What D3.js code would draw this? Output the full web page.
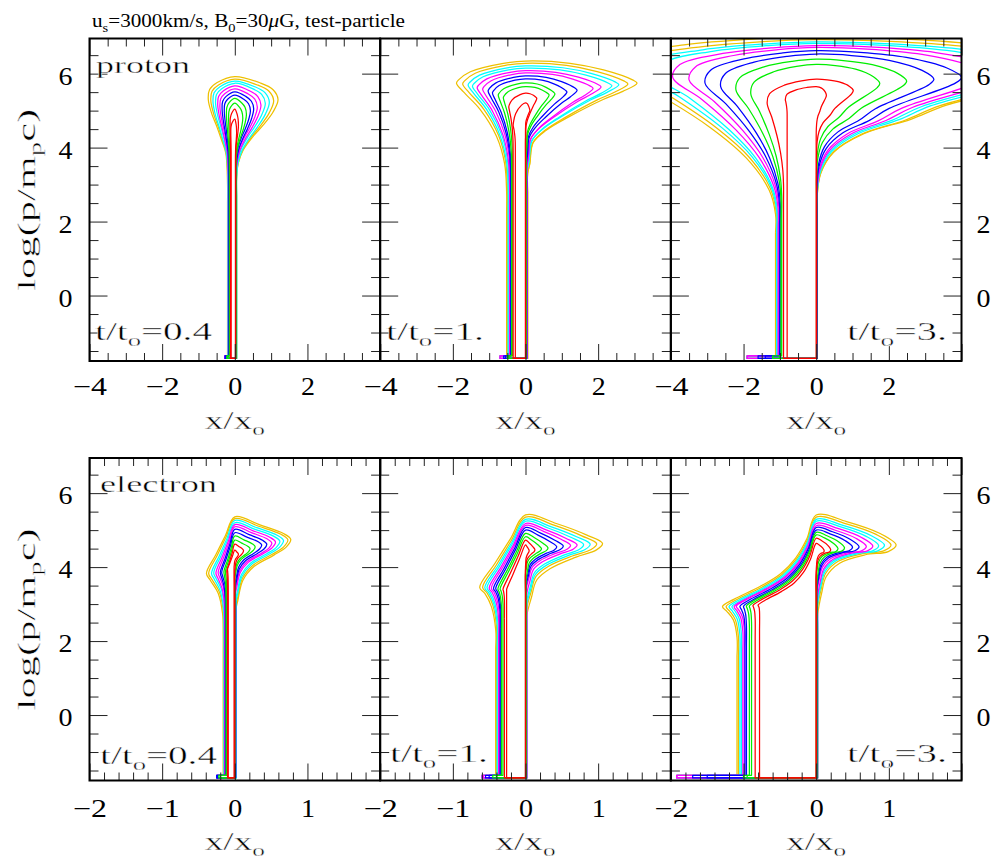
<!DOCTYPE html>
<html><head><meta charset="utf-8">
<script src="https://cdn.jsdelivr.net/npm/d3@7"></script>
<style>body{margin:0;background:#fff}</style>
</head><body><svg id="c" width="995" height="864"></svg>
<script>
// ---------------- DATA ----------------
const levelColors = ["#ff0000","#ff0000","#00ee00","#00ee00","#0000ff","#0000ff","#ff00ff","#ff00ff","#00ffff","#00ffff","#eec000","#eec000"];
const yDomain = [-1.77, 6.95];
const xDomainProton = [-4, 4];
const xDomainElectron = [-2, 2];
const xTickLabelsProton = [-4, -2, 0, 2];
const xTickLabelsElectron = [-2, -1, 0, 1];
const yTickLabels = [0, 2, 4, 6];
const timeLabels = ["0.4", "1.", "3."];

// proton t/t0=0.4 (levels inner red -> outer gold)
const p1_topY  = [4.77,5.04,5.2,5.33,5.42,5.51,5.59,5.67,5.74,5.8,5.85,5.92];
const p1_noseX = [0.05,0.1,0.22,0.32,0.43,0.52,0.62,0.72,0.84,0.95,1.07,1.19];
const p1_noseY = [4.4,4.6,4.8,4.9,5.0,5.05,5.1,5.15,5.2,5.23,5.27,5.3];
const p1_leftX = [-0.11,-0.13,-0.17,-0.23,-0.29,-0.35,-0.41,-0.47,-0.53,-0.6,-0.66,-0.73];
const p1_leftY = [4.4,4.6,4.8,4.9,5.0,5.05,5.1,5.15,5.2,5.23,5.27,5.3];
const p1_stemL = [-0.1,-0.12,-0.14,-0.15,-0.16,-0.17,-0.17,-0.18,-0.18,-0.19,-0.19,-0.2];
const p1_stemR = [0.02,0.02,0.03,0.03,0.03,0.04,0.04,0.04,0.05,0.05,0.05,0.05];
const p1_neckL = [3.6,3.5,3.4,3.3,3.3,3.2,3.2,3.1,3.1,3.0,3.0,3.0];
const p1_neckR = [3.8,3.7,3.6,3.5,3.5,3.4,3.4,3.3,3.3,3.2,3.2,3.2];
const p1_tail  = [-0.1,-0.12,-0.2,-0.22,-0.25,-0.27,-0.28,-0.28,-0.28,-0.28,-0.28,-0.28];

// proton t/t0=1
const p2_topY  = [5.21,5.47,5.65,5.75,5.86,5.94,6.02,6.08,6.15,6.21,6.28,6.34];
const p2_noseX = [0.12,0.31,0.65,0.81,1.14,1.42,1.86,2.08,2.38,2.57,2.82,3.07];
const p2_noseY = [5.0,5.33,5.42,5.45,5.5,5.55,5.6,5.64,5.67,5.7,5.72,5.74];
const p2_leftX = [-0.34,-0.46,-0.61,-0.75,-0.91,-1.03,-1.18,-1.33,-1.46,-1.58,-1.73,-1.9];
const p2_leftY = [4.6,5.1,5.35,5.42,5.48,5.53,5.58,5.62,5.66,5.69,5.72,5.74];
const p2_stemL = [-0.28,-0.34,-0.36,-0.38,-0.4,-0.41,-0.42,-0.44,-0.46,-0.48,-0.5,-0.52];
const p2_stemR = [0,0,0.02,0.02,0.03,0.03,0.04,0.04,0.05,0.05,0.06,0.06];
const p2_neckL = [4.0,3.9,3.6,3.4,3.3,3.2,3.1,3.0,3.0,2.9,2.9,2.8];
const p2_neckR = [4.5,4.2,3.9,3.8,3.7,3.6,3.5,3.5,3.4,3.4,3.3,3.3];
const p2_tail  = [-0.28,-0.34,-0.45,-0.5,-0.55,-0.6,-0.7,-0.7,-0.7,-0.7,-0.7,-0.7];

// proton t/t0=3
const p3_topY  = [5.65,5.85,6.25,6.39,6.53,6.62,6.71,6.76,6.82,6.86,6.92,7.0];
const p3_noseX = [0.28,1.02,1.75,2.49,3.24,4.0,4.7,5.3,5.8,6.3,6.8,7.2];
const p3_noseY = [5.42,5.55,5.74,5.8,5.85,5.9,5.95,6.0,6.05,6.1,6.12,6.15];
const p3_leftX = [-0.85,-1.35,-1.8,-2.21,-2.63,-3.06,-3.5,-3.95,-4.4,-4.8,-5.2,-5.6];
const p3_leftY = [5.3,5.2,5.45,5.56,5.65,5.74,5.83,5.9,5.95,6.0,6.05,6.1];
const p3_stemL = [-0.8,-0.9,-0.95,-0.97,-0.99,-1.01,-1.03,-1.05,-1.07,-1.09,-1.1,-1.12];
const p3_stemR = [0,0.01,0.01,0.01,0.02,0.02,0.02,0.02,0.02,0.02,0.02,0.02];
const p3_neckL = [4.9,3.0,2.7,2.6,2.5,2.45,2.4,2.35,2.3,2.3,2.25,2.2];
const p3_neckR = [4.3,3.8,3.4,3.2,3.0,2.9,2.8,2.75,2.7,2.65,2.6,2.6];
const p3_tail  = [-0.8,-0.9,-1.0,-1.2,-1.4,-1.6,-1.9,-1.9,-1.9,-1.9,-1.9,-1.9];

// electron t/t0=0.4
const e1_topY  = [4.46,4.62,4.73,4.84,4.93,5.02,5.09,5.15,5.2,5.26,5.31,5.36];
const e1_noseX = [0.05,0.12,0.21,0.28,0.37,0.44,0.51,0.56,0.62,0.67,0.73,0.77];
const e1_noseY = [4.35,4.45,4.5,4.55,4.6,4.62,4.65,4.68,4.7,4.72,4.74,4.75];
const e1_leftX = [-0.1,-0.11,-0.13,-0.15,-0.18,-0.2,-0.23,-0.26,-0.29,-0.32,-0.36,-0.39];
const e1_leftY = [3.95,3.9,3.88,3.87,3.86,3.85,3.85,3.84,3.84,3.83,3.83,3.83];
const e1_stemL = [-0.09,-0.1,-0.11,-0.12,-0.12,-0.13,-0.13,-0.14,-0.14,-0.15,-0.15,-0.16];
const e1_stemR = [-0.01,0,0,0,0.01,0.01,0.01,0.01,0.02,0.02,0.02,0.02];
const e1_neckL = [3.3,3.2,3.1,3.0,2.9,2.8,2.7,2.6,2.5,2.4,2.3,2.2];
const e1_neckR = [4.0,3.9,3.8,3.7,3.6,3.5,3.4,3.3,3.2,3.1,3.0,2.9];
const e1_tail  = [-0.09,-0.1,-0.2,-0.22,-0.24,-0.25,-0.25,-0.25,-0.25,-0.25,-0.25,-0.25];

// electron t/t0=1
const e2_topY  = [4.6,4.73,4.82,4.91,5.0,5.07,5.13,5.18,5.24,5.29,5.35,5.41];
const e2_noseX = [0.05,0.13,0.22,0.31,0.43,0.52,0.62,0.71,0.8,0.89,0.98,1.06];
const e2_noseY = [4.45,4.47,4.5,4.52,4.55,4.57,4.59,4.6,4.61,4.62,4.63,4.64];
const e2_leftX = [-0.26,-0.31,-0.35,-0.38,-0.41,-0.44,-0.47,-0.5,-0.53,-0.56,-0.59,-0.63];
const e2_leftY = [3.4,3.4,3.41,3.41,3.42,3.42,3.43,3.43,3.44,3.44,3.45,3.45];
const e2_stemL = [-0.26,-0.29,-0.31,-0.33,-0.34,-0.35,-0.36,-0.37,-0.38,-0.39,-0.4,-0.41];
const e2_stemR = [0,0,0,0.01,0.01,0.01,0.01,0.02,0.02,0.02,0.02,0.02];
const e2_neckL = [3.3,3.1,3.0,2.9,2.85,2.8,2.7,2.6,2.5,2.45,2.4,2.3];
const e2_neckR = [4.0,3.9,3.8,3.7,3.6,3.5,3.4,3.3,3.1,3.0,2.9,2.7];
const e2_tail  = [-0.26,-0.29,-0.4,-0.45,-0.5,-0.55,-0.58,-0.6,-0.6,-0.6,-0.6,-0.6];

// electron t/t0=3
const e3_topY  = [4.64,4.78,4.87,4.94,5.0,5.07,5.12,5.18,5.24,5.29,5.35,5.41];
const e3_noseX = [0.11,0.2,0.3,0.39,0.5,0.59,0.69,0.78,0.86,0.94,1.03,1.1];
const e3_noseY = [4.45,4.47,4.5,4.52,4.54,4.55,4.56,4.57,4.58,4.59,4.6,4.6];
const e3_leftX = [-0.8,-0.87,-0.92,-0.96,-1.0,-1.05,-1.1,-1.13,-1.16,-1.2,-1.24,-1.29];
const e3_leftY = [2.97,2.96,2.95,2.95,2.94,2.94,2.94,2.93,2.93,2.93,2.93,2.93];
const e3_stemL = [-0.78,-0.84,-0.89,-0.92,-0.96,-0.98,-0.99,-1.01,-1.03,-1.05,-1.07,-1.09];
const e3_stemR = [0,0,0,0.01,0.01,0.01,0.01,0.02,0.02,0.02,0.02,0.02];
const e3_neckL = [2.8,2.6,2.5,2.45,2.4,2.35,2.3,2.25,2.2,2.15,2.1,2.1];
const e3_neckR = [3.9,3.8,3.7,3.6,3.5,3.4,3.3,3.2,3.1,3.0,2.9,2.7];
const e3_tail  = [-0.78,-0.84,-0.95,-1.0,-1.5,-1.7,-1.92,-1.92,-1.92,-1.92,-1.92,-1.92];

// ---------------- shape styling (fractions between key points) ----------------
const shapes = {
  p1:{lf:[[0.09,0.37],[0.32,0.53],[0.57,0.69],[0.83,0.84]], ul:[[0.95,0.44],[0.68,0.73]], ur:[[0.58,0.27],[0.88,0.56]], lr:[[0.88,0.16],[0.64,0.33],[0.39,0.48],[0.16,0.65],[0.04,0.82]]},
  p2:{lf:[[0.04,0.26],[0.2,0.51],[0.53,0.76],[0.86,0.92]], ul:[[0.97,0.15],[0.8,0.52],[0.32,0.9]], ur:[[0.4,0.1],[0.7,0.4],[0.96,0.85]], lr:[[0.87,0.09],[0.69,0.18],[0.38,0.37],[0.17,0.52],[0.05,0.66],[0.02,0.89]]},
  p3:{lf:[[0.04,0.17],[0.18,0.39],[0.4,0.6],[0.72,0.83]], ul:[[0.95,0.4],[0.65,0.75],[0.3,0.93]], ur:[[0.3,0.06],[0.62,0.25],[0.9,0.65]], lr:[[0.96,0.05],[0.5,0.28],[0.36,0.39],[0.18,0.5],[0.065,0.64],[0.015,0.8]]},
  e1:{lf:[[0.04,0.34],[0.3,0.67],[0.78,0.89]], ul:[[0.67,0.33],[0.33,0.67]], ur:[[0.45,0.36],[0.87,0.74]], lr:[[0.92,0.11],[0.69,0.23],[0.32,0.4],[0.12,0.6],[0.03,0.89]]},
  e2:{lf:[[0.27,0.55],[0.68,0.86]], ul:[[0.67,0.33],[0.33,0.67]], ur:[[0.4,0.3],[0.79,0.7]], lr:[[0.92,0.09],[0.65,0.19],[0.31,0.35],[0.13,0.51],[0.06,0.75]]},
  e3:{lf:[[0.25,0.57],[0.7,0.85]], ul:[[0.88,0.08],[0.6,0.22],[0.38,0.36],[0.22,0.53],[0.1,0.74]], ur:[[0.38,0.22],[0.8,0.62]], lr:[[0.9,0.095],[0.61,0.14],[0.28,0.26],[0.11,0.45],[0.05,0.69]]}
};

const mk = (t,nx,ny,lx,ly,sl,sr,nl,nr,tl)=>({topY:t,noseX:nx,noseY:ny,leftX:lx,leftY:ly,stemL:sl,stemR:sr,neckL:nl,neckR:nr,tail:tl});
const panels = [
  {id:"p1", row:0, col:0, F:mk(p1_topY,p1_noseX,p1_noseY,p1_leftX,p1_leftY,p1_stemL,p1_stemR,p1_neckL,p1_neckR,p1_tail)},
  {id:"p2", row:0, col:1, F:mk(p2_topY,p2_noseX,p2_noseY,p2_leftX,p2_leftY,p2_stemL,p2_stemR,p2_neckL,p2_neckR,p2_tail)},
  {id:"p3", row:0, col:2, F:mk(p3_topY,p3_noseX,p3_noseY,p3_leftX,p3_leftY,p3_stemL,p3_stemR,p3_neckL,p3_neckR,p3_tail)},
  {id:"e1", row:1, col:0, F:mk(e1_topY,e1_noseX,e1_noseY,e1_leftX,e1_leftY,e1_stemL,e1_stemR,e1_neckL,e1_neckR,e1_tail)},
  {id:"e2", row:1, col:1, F:mk(e2_topY,e2_noseX,e2_noseY,e2_leftX,e2_leftY,e2_stemL,e2_stemR,e2_neckL,e2_neckR,e2_tail)},
  {id:"e3", row:1, col:2, F:mk(e3_topY,e3_noseX,e3_noseY,e3_leftX,e3_leftY,e3_stemL,e3_stemR,e3_neckL,e3_neckR,e3_tail)}
];

// ---------------- LAYOUT ----------------
const colX = [89.5, 380.2, 670.9], colW = 290.6;
const rowY = [38.5, 458], rowH = 322.5;
const FONT = "'Liberation Serif', serif";
const svg = d3.select("#c");
// thin the stretched glyphs a little (reference uses a light stroke font)
const thin = sel => sel.attr("stroke","#fff").attr("stroke-width",0.4).attr("paint-order","fill");

function bulbPoints(F, i, S) {
  const sL=F.stemL[i], sR=F.stemR[i], nL=F.neckL[i], nR=F.neckR[i];
  const lx=F.leftX[i], ly=F.leftY[i], ty=F.topY[i], nx=F.noseX[i], ny=F.noseY[i];
  const P=[[sL,nL-0.5],[sL,nL]];
  S.lf.forEach(([a,b])=>P.push([sL+a*(lx-sL), nL+b*(ly-nL)]));
  P.push([lx,ly]);
  S.ul.forEach(([a,b])=>P.push([a*lx, ly+b*(ty-ly)]));
  P.push([0,ty]);
  S.ur.forEach(([a,b])=>P.push([a*nx, ty-b*(ty-ny)]));
  P.push([nx,ny]);
  S.lr.forEach(([a,b])=>P.push([sR+a*(nx-sR), ny-b*(ny-nR)]));
  P.push([sR,nR],[sR,nR-0.5]);
  return P;
}
function stemPoints(F, i, yb) {
  const sL=F.stemL[i], sR=F.stemR[i], nL=F.neckL[i], nR=F.neckR[i], tl=F.tail[i];
  const P=[[sL,nL-0.5]];
  if (tl < sL - 0.03) P.push([sL,yb+0.07],[tl,yb+0.07],[tl,yb]); else P.push([sL,yb]);
  P.push([sR,yb],[sR,nR-0.5]);
  return P;
}

function range(a,b,s){const r=[];for(let v=a;v<=b+1e-9;v+=s)r.push(+v.toFixed(3));return r;}
const fmt = d3.format("d");

panels.forEach(p=>{
  const x0=colX[p.col], y0=rowY[p.row];
  const proton = p.row===0;
  const xs = d3.scaleLinear().domain(proton?xDomainProton:xDomainElectron).range([x0,x0+colW]);
  const ys = d3.scaleLinear().domain(yDomain).range([y0+rowH,y0]);
  const g = svg.append("g");
  const clipId = "clip-"+p.id;
  svg.append("clipPath").attr("id",clipId).append("rect").attr("x",x0).attr("y",y0).attr("width",colW).attr("height",rowH);

  // contours
  const curve = d3.line().x(d=>xs(d[0])).y(d=>ys(d[1])).curve(d3.curveCatmullRom.alpha(0.5));
  const lin = d3.line().x(d=>xs(d[0])).y(d=>ys(d[1]));
  const cg = g.append("g").attr("clip-path","url(#"+clipId+")");
  const yb = -1.7;
  for(let i=11;i>=0;i--){
    cg.append("path").attr("d",curve(bulbPoints(p.F,i,shapes[p.id])) + lin(stemPoints(p.F,i,yb)))
      .attr("fill","none").attr("stroke",levelColors[i]).attr("stroke-width",1.25).attr("stroke-linejoin","round");
  }

  // ticks
  const xMaj = proton?range(-4,4,2):range(-2,2,1);
  const xMin = proton?range(-4,4,0.5):range(-2,2,0.2);
  const yMaj = [0,2,4,6];
  const yMin = range(-1.5,6.5,0.5);
  const style = a=>{a.select(".domain").remove(); a.selectAll("line").attr("stroke","#222").attr("stroke-width",1);};
  const xMinF = xMin.filter(v=>!xMaj.some(m=>Math.abs(m-v)<1e-6));
  const yMinF = yMin.filter(v=>!yMaj.includes(v));
  const lab = sel=>sel.selectAll("text").attr("font-family",FONT).attr("font-size",25).attr("fill","#000")
      .each(function(){const t=d3.select(this).text(); d3.select(this).attr("textLength",t.length>1?34:14).attr("lengthAdjust","spacingAndGlyphs");});
  // bottom
  g.append("g").attr("transform",`translate(0,${y0+rowH})`).call(d3.axisBottom(xs).tickValues(xMinF).tickSize(-8).tickFormat("")).call(style);
  g.append("g").attr("transform",`translate(0,${y0+rowH})`).call(d3.axisBottom(xs).tickValues(xMaj).tickSize(-17).tickFormat("")).call(style);
  const bAx = g.append("g").attr("transform",`translate(0,${y0+rowH})`)
    .call(d3.axisBottom(xs).tickValues(proton?xTickLabelsProton:xTickLabelsElectron).tickSize(0).tickPadding(proton?16:19).tickFormat(fmt)).call(style);
  lab(bAx);
  // top
  g.append("g").attr("transform",`translate(0,${y0})`).call(d3.axisTop(xs).tickValues(xMinF).tickSize(-8).tickFormat("")).call(style);
  g.append("g").attr("transform",`translate(0,${y0})`).call(d3.axisTop(xs).tickValues(xMaj).tickSize(-17).tickFormat("")).call(style);
  // left
  g.append("g").attr("transform",`translate(${x0},0)`).call(d3.axisLeft(ys).tickValues(yMinF).tickSize(-9).tickFormat("")).call(style);
  const lAx = g.append("g").attr("transform",`translate(${x0},0)`).call(d3.axisLeft(ys).tickValues(yTickLabels).tickSize(-18).tickPadding(17).tickFormat(fmt)).call(style);
  if(p.col===0) lab(lAx).attr("dy","0.42em"); else lAx.selectAll("text").remove();
  // right
  g.append("g").attr("transform",`translate(${x0+colW},0)`).call(d3.axisRight(ys).tickValues(yMinF).tickSize(-9).tickFormat("")).call(style);
  const rAx = g.append("g").attr("transform",`translate(${x0+colW},0)`).call(d3.axisRight(ys).tickValues(yTickLabels).tickSize(-18).tickPadding(15).tickFormat(fmt)).call(style);
  if(p.col===2) lab(rAx).attr("dy","0.42em"); else rAx.selectAll("text").remove();

  // frame
  g.append("rect").attr("x",x0).attr("y",y0).attr("width",colW).attr("height",rowH)
    .attr("fill","none").attr("stroke","#000").attr("stroke-width",2);

  // x axis title
  const xt = g.append("text").attr("x",x0+colW/2-30).attr("y",y0+rowH+(proton?68:69))
    .attr("font-family",FONT).attr("font-size",25).attr("textLength",60).attr("lengthAdjust","spacingAndGlyphs").call(thin);
  xt.append("tspan").text("x/x");
  xt.append("tspan").attr("font-size",17).attr("dy",6).text("o");

  // time label
  const tPos = [[95,340],[386,340],[847,340],[100,764],[390,762],[847,762]][p.row*3+p.col];
  const tl = g.append("text").attr("x",tPos[0]).attr("y",tPos[1]).attr("font-family",FONT).attr("font-size",25)
    .attr("textLength",[117,98,100][p.col]).attr("lengthAdjust","spacingAndGlyphs").call(thin);
  tl.append("tspan").text("t/t");
  tl.append("tspan").attr("font-size",17).attr("dy",6).text("o");
  tl.append("tspan").attr("dy",-6).text("="+timeLabels[p.col]);
});

// species labels
svg.append("text").attr("x",96).attr("y",73).attr("font-family",FONT).attr("font-size",24).attr("textLength",94).attr("lengthAdjust","spacingAndGlyphs").call(thin).text("proton");
svg.append("text").attr("x",100).attr("y",492).attr("font-family",FONT).attr("font-size",24).attr("textLength",117).attr("lengthAdjust","spacingAndGlyphs").call(thin).text("electron");

// y axis titles
[199.75, 619.25].forEach(cy=>{
  const t = svg.append("text").attr("transform",`translate(35,${cy}) rotate(-90)`).attr("text-anchor","middle")
    .attr("font-family",FONT).attr("font-size",25).attr("textLength",182).attr("lengthAdjust","spacingAndGlyphs").call(thin);
  t.append("tspan").text("log(p/m");
  t.append("tspan").attr("font-size",17).attr("dy",6).text("p");
  t.append("tspan").attr("dy",-6).text("c)");
});

// title
const title = svg.append("text").attr("x",92).attr("y",27).attr("font-family",FONT).attr("font-size",19)
  .attr("textLength",313).attr("lengthAdjust","spacingAndGlyphs");
title.append("tspan").text("u");
title.append("tspan").attr("font-size",13).attr("dy",5).text("s");
title.append("tspan").attr("dy",-5).text("=3000km/s, B");
title.append("tspan").attr("font-size",13).attr("dy",5).text("0");
title.append("tspan").attr("dy",-5).text("=30");
title.append("tspan").attr("font-style","italic").text("μ");
title.append("tspan").text("G, test-particle");
</script>
</body></html>
